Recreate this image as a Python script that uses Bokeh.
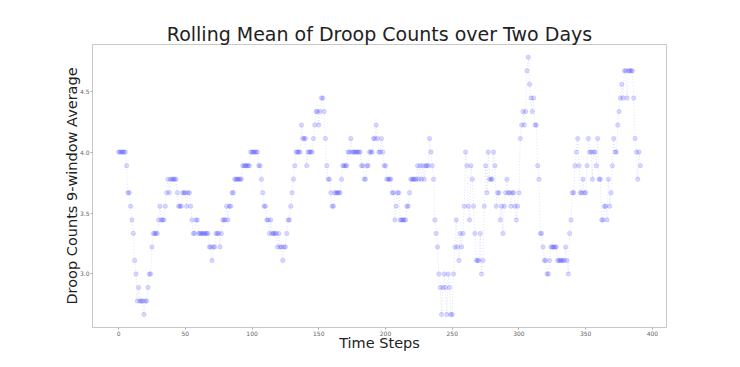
from bokeh.plotting import figure
from bokeh.models import Range1d, FixedTicker, PrintfTickFormatter
from bokeh.embed import file_html
from bokeh.resources import INLINE

# Rolling mean (9-window) of droop counts
rolling_mean = [
    4.0, 4.0, 4.0, 4.0, 4.0, 4.0, 3.889, 3.667, 3.667, 3.556,
    3.444, 3.333, 3.111, 3.0, 2.778, 2.889, 2.778, 2.778, 2.778, 2.667,
    2.778, 2.778, 2.889, 3.0, 3.0, 3.222, 3.333, 3.333, 3.333, 3.333,
    3.444, 3.556, 3.444, 3.444, 3.444, 3.556, 3.667, 3.778, 3.667, 3.778,
    3.778, 3.778, 3.778, 3.778, 3.667, 3.556, 3.556, 3.556, 3.667, 3.667,
    3.667, 3.556, 3.667, 3.667, 3.556, 3.444, 3.333, 3.333, 3.444, 3.444,
    3.333, 3.333, 3.333, 3.333, 3.333, 3.333, 3.333, 3.333, 3.222, 3.222,
    3.111, 3.222, 3.222, 3.333, 3.333, 3.333, 3.222, 3.333, 3.444, 3.444,
    3.444, 3.556, 3.444, 3.556, 3.556, 3.667, 3.667, 3.778, 3.778, 3.778,
    3.778, 3.778, 3.778, 3.889, 3.889, 3.889, 3.889, 3.889, 3.889, 4.0,
    4.0, 4.0, 4.0, 4.0, 4.0, 3.889, 3.889, 3.778, 3.667, 3.556,
    3.556, 3.444, 3.444, 3.333, 3.444, 3.333, 3.333, 3.333, 3.333, 3.222,
    3.333, 3.222, 3.222, 3.111, 3.222, 3.222, 3.333, 3.444, 3.444, 3.556,
    3.667, 3.778, 3.889, 4.0, 4.0, 4.0, 4.0, 4.222, 4.111, 4.111,
    4.111, 3.889, 4.0, 4.0, 4.0, 4.0, 4.111, 4.222, 4.333, 4.333,
    4.222, 4.333, 4.444, 4.444, 4.333, 4.111, 3.889, 3.778, 3.778, 3.667,
    3.556, 3.556, 3.667, 3.667, 3.667, 3.667, 3.667, 3.778, 3.889, 3.889,
    3.889, 3.889, 4.0, 4.0, 4.111, 4.0, 4.0, 4.0, 4.0, 4.0,
    4.0, 4.0, 3.889, 3.889, 3.778, 3.778, 3.889, 3.889, 4.0, 4.0,
    4.0, 4.111, 4.111, 4.222, 4.111, 4.0, 4.0, 4.111, 4.0, 3.889,
    3.889, 3.778, 3.778, 3.778, 3.778, 3.667, 3.667, 3.444, 3.556, 3.667,
    3.667, 3.444, 3.444, 3.444, 3.444, 3.444, 3.556, 3.556, 3.667, 3.778,
    3.778, 3.778, 3.778, 3.778, 3.889, 3.778, 3.889, 3.778, 3.889, 3.778,
    3.889, 3.889, 3.889, 4.111, 4.0, 3.889, 3.778, 3.444, 3.333, 3.222,
    3.0, 2.889, 2.667, 2.889, 3.0, 2.889, 2.667, 3.0, 2.889, 2.667,
    2.667, 3.0, 3.222, 3.444, 3.222, 3.111, 3.333, 3.222, 3.333, 3.556,
    4.0, 3.889, 3.556, 3.444, 3.889, 3.778, 3.556, 3.333, 3.111, 3.111,
    3.111, 3.333, 3.0, 3.111, 3.556, 3.889, 3.667, 4.0, 3.778, 3.778,
    3.778, 4.0, 3.889, 3.556, 3.667, 3.667, 3.444, 3.556, 3.333, 3.556,
    3.667, 3.778, 3.667, 3.667, 3.556, 3.667, 3.667, 3.556, 3.444, 3.556,
    3.667, 4.111, 4.222, 4.333, 4.222, 4.333, 4.667, 4.778, 4.556, 4.444,
    4.333, 4.444, 4.222, 4.222, 3.889, 3.778, 3.333, 3.333, 3.222, 3.111,
    3.111, 3.0, 3.0, 3.111, 3.222, 3.222, 3.222, 3.222, 3.222, 3.111,
    3.111, 3.111, 3.111, 3.111, 3.111, 3.222, 3.111, 3.0, 3.333, 3.444,
    3.667, 3.667, 3.889, 4.0, 4.111, 3.889, 3.667, 3.667, 3.778, 3.667,
    3.667, 3.889, 4.111, 4.0, 4.0, 3.778, 4.0, 4.0, 3.889, 4.111,
    3.778, 3.778, 3.444, 3.444, 3.556, 3.556, 3.444, 3.778, 3.556, 3.667,
    3.889, 4.111, 4.0, 4.0, 4.222, 4.333, 4.444, 4.556, 4.444, 4.667,
    4.667, 4.444, 4.667, 4.667, 4.667, 4.667, 4.444, 4.111, 4.0, 3.778,
    4.0, 3.889,
]
time_steps = list(range(len(rolling_mean)))

x_ticks = [0, 50, 100, 150, 200, 250, 300, 350, 400]
y_ticks = [3.0, 3.5, 4.0, 4.5]

p = figure(
    width=724, height=363,
    output_backend="svg", toolbar_location=None,
    x_range=Range1d(-19.55, 410.55), y_range=Range1d(2.561, 4.883),
    min_border_left=92, min_border_right=58, min_border_top=44, min_border_bottom=36,
)
p.title.text = "Rolling Mean of Droop Counts over Two Days"
p.title.align = "center"
p.title.text_font = "DejaVu Sans"
p.title.text_font_size = "19px"
p.title.text_font_style = "normal"
p.title.text_color = "#222222"
p.title.standoff = 0

p.line(time_steps, rolling_mean, line_color="blue", line_alpha=0.12,
       line_width=1, line_dash="1 2")
p.scatter(time_steps, rolling_mean, size=4.5, marker="circle",
          fill_color="blue", fill_alpha=0.15, line_color="blue", line_alpha=0.1)

p.xgrid.visible = False
p.ygrid.visible = False
p.outline_line_color = "#c8c8c8"
p.outline_line_width = 1
p.background_fill_color = "white"
p.border_fill_color = "white"

for ax in (p.xaxis[0], p.yaxis[0]):
    ax.axis_line_color = "#c8c8c8"
    ax.major_tick_line_color = "#aaaaaa"
    ax.major_tick_out = 2
    ax.major_tick_in = 0
    ax.minor_tick_line_color = None
    ax.major_label_text_font = "DejaVu Sans"
    ax.major_label_text_font_size = "6px"
    ax.major_label_text_color = "#666666"
    ax.major_label_standoff = 1
    ax.axis_label_text_font = "DejaVu Sans"
    ax.axis_label_text_font_size = "14.5px"
    ax.axis_label_text_font_style = "normal"
    ax.axis_label_text_color = "#222222"

p.xaxis[0].ticker = FixedTicker(ticks=x_ticks)
p.yaxis[0].ticker = FixedTicker(ticks=y_ticks)
p.yaxis[0].formatter = PrintfTickFormatter(format="%.1f")
p.xaxis[0].axis_label = "Time Steps"
p.yaxis[0].axis_label = "Droop Counts 9-window Average"
p.xaxis[0].axis_label_standoff = -4
p.yaxis[0].axis_label_standoff = -3

open("out.html", "w").write(file_html(p, INLINE))
